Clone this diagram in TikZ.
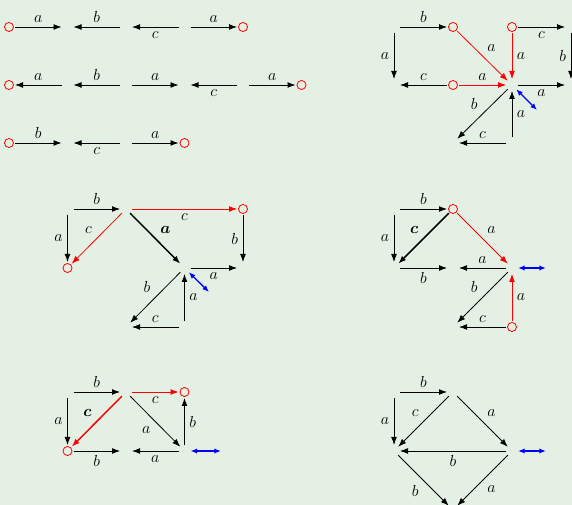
\documentclass[tikz,border=0pt]{standalone}
\definecolor{paleg}{RGB}{229,240,228}
\colorlet{hot}{red}
\colorlet{swapc}{blue}
\usepackage{tikz}
\usetikzlibrary{arrows.meta}
\usepackage{amsmath,bm}

\begin{document}
\begin{tikzpicture}[x=0.75pt, y=-0.75pt,
  every node/.style={font=\large, text=black},
  edge/.style={-{Latex[length=6pt,width=4.4pt]}, line width=0.6pt, shorten <=4.5pt, shorten >=4.5pt},
  hotedge/.style={edge, hot},
  fatedge/.style={edge, line width=1.1pt},
  flip/.style={{Latex[length=5pt,width=4pt]}-{Latex[length=5pt,width=4pt]}, swapc, line width=1pt, shorten <=4.5pt},
  hole/.style={circle, draw=hot, line width=0.6pt, inner sep=0pt, minimum size=6.8pt}]

% --- Background ---
\fill[paleg] (0,0) rectangle (572,505);
\useasboundingbox (0,0) rectangle (572,505);

% --- Words (top left) ---
\foreach \i/\x in {0/9, 1/67.5, 2/126, 3/184.5, 4/243, 5/301.5} {
  \coordinate (ra\i) at (\x,27);
  \coordinate (rb\i) at (\x,85);
  \coordinate (rc\i) at (\x,143);
}
\draw[edge] (ra0) -- node[above] {$a$} (ra1);
\draw[edge] (ra2) -- node[above] {$b$} (ra1);
\draw[edge] (ra3) -- node[below] {$c$} (ra2);
\draw[edge] (ra3) -- node[above] {$a$} (ra4);

\draw[edge] (rb1) -- node[above] {$a$} (rb0);
\draw[edge] (rb2) -- node[above] {$b$} (rb1);
\draw[edge] (rb2) -- node[above] {$a$} (rb3);
\draw[edge] (rb4) -- node[below] {$c$} (rb3);
\draw[edge] (rb4) -- node[above] {$a$} (rb5);

\draw[edge] (rc0) -- node[above] {$b$} (rc1);
\draw[edge] (rc2) -- node[below] {$c$} (rc1);
\draw[edge] (rc2) -- node[above] {$a$} (rc3);

% --- Graph 1 (top right) ---
\coordinate (tp1) at (394,27);  \coordinate (tp2) at (453,27);
\coordinate (tp3) at (512,27);  \coordinate (tp4) at (571,27);
\coordinate (tq1) at (394,85);  \coordinate (tq2) at (453,85);
\coordinate (tq3) at (512,85);  \coordinate (tq4) at (571,85);
\coordinate (tr2) at (453,143); \coordinate (tr3) at (512,143);
\coordinate (ts) at (537,110);

\draw[edge] (tp1) -- node[above] {$b$} (tp2);
\draw[edge] (tp1) -- node[left] {$a$} (tq1);
\draw[edge] (tp3) -- node[below] {$c$} (tp4);
\draw[edge] (tp4) -- node[left] {$b$} (tq4);
\draw[edge] (tq2) -- node[above] {$c$} (tq1);
\draw[hotedge] (tq2) -- node[above] {$a$} (tq3);
\draw[hotedge] (tp2) -- node[above right] {$a$} (tq3);
\draw[hotedge] (tp3) -- node[right] {$a$} (tq3);
\draw[edge] (tq3) -- node[below] {$a$} (tq4);
\draw[edge] (tq3) -- node[above left] {$b$} (tr2);
\draw[edge] (tr3) -- node[right] {$a$} (tq3);
\draw[edge] (tr3) -- node[above] {$c$} (tr2);
\draw[flip] (tq3) -- (ts);

% --- Graph 2 (middle left) ---
\coordinate (ma) at (67.5,209); \coordinate (mb) at (126,209);
\coordinate (mc) at (243,209);  \coordinate (md) at (67.5,268);
\coordinate (me) at (184.5,268); \coordinate (mf) at (243,268);
\coordinate (mg) at (126,327);  \coordinate (mh) at (184.5,327);
\coordinate (ms) at (209,292);

\draw[edge] (ma) -- node[above] {$b$} (mb);
\draw[edge] (ma) -- node[left] {$a$} (md);
\draw[hotedge] (mb) -- node[below] {$c$} (mc);
\draw[hotedge] (mb) -- node[above left] {$c$} (md);
\draw[fatedge] (mb) -- node[above right] {$\bm{a}$} (me);
\draw[edge] (mc) -- node[left] {$b$} (mf);
\draw[edge] (me) -- node[below] {$a$} (mf);
\draw[edge] (me) -- node[above left] {$b$} (mg);
\draw[edge] (mh) -- node[right] {$a$} (me);
\draw[edge] (mh) -- node[above] {$c$} (mg);
\draw[flip] (me) -- (ms);

% --- Graph 3 (middle right) ---
\coordinate (na) at (394,209); \coordinate (nb) at (453,209);
\coordinate (nd) at (394,268); \coordinate (ne) at (453,268);
\coordinate (nf) at (512,268); \coordinate (ng) at (453,327);
\coordinate (nh) at (512,327); \coordinate (ns) at (546,268);

\draw[edge] (na) -- node[above] {$b$} (nb);
\draw[edge] (na) -- node[left] {$a$} (nd);
\draw[fatedge] (nb) -- node[above left] {$\bm{c}$} (nd);
\draw[hotedge] (nb) -- node[above right] {$a$} (nf);
\draw[edge] (nd) -- node[below] {$b$} (ne);
\draw[edge] (nf) -- node[above] {$a$} (ne);
\draw[edge] (nf) -- node[above left] {$b$} (ng);
\draw[hotedge] (nh) -- node[right] {$a$} (nf);
\draw[edge] (nh) -- node[above] {$c$} (ng);
\draw[flip] (nf) -- (ns);

% --- Graph 4 (bottom left) ---
\coordinate (ka) at (67.5,392);  \coordinate (kb) at (126,392);
\coordinate (kc) at (184.5,392); \coordinate (kd) at (67.5,451);
\coordinate (ke) at (126,451);   \coordinate (kf) at (184.5,451);
\coordinate (ks) at (221,451);

\draw[edge] (ka) -- node[above] {$b$} (kb);
\draw[edge] (ka) -- node[left] {$a$} (kd);
\draw[hotedge] (kb) -- node[below] {$c$} (kc);
\draw[hotedge, line width=1.1pt] (kb) -- node[above left] {$\bm{c}$} (kd);
\draw[edge] (kb) -- node[below left] {$a$} (kf);
\draw[edge] (kf) -- node[right] {$b$} (kc);
\draw[edge] (kd) -- node[below] {$b$} (ke);
\draw[edge] (kf) -- node[below] {$a$} (ke);
\draw[flip] (kf) -- (ks);

% --- Graph 5 (bottom right) ---
\coordinate (za) at (394,392); \coordinate (zb) at (453,392);
\coordinate (zd) at (394,451); \coordinate (zf) at (512,451);
\coordinate (zg) at (453,510); \coordinate (zs) at (546,451);

\draw[edge] (za) -- node[above] {$b$} (zb);
\draw[edge] (za) -- node[left] {$a$} (zd);
\draw[edge] (zb) -- node[above left] {$c$} (zd);
\draw[edge] (zb) -- node[above right] {$a$} (zf);
\draw[edge] (zf) -- node[below] {$b$} (zd);
\draw[edge] (zd) -- node[below left] {$b$} (zg);
\draw[edge] (zf) -- node[below right] {$a$} (zg);
\draw[flip] (zf) -- (zs);

% --- Red start/end marks ---
\foreach \v in {ra0, ra4, rb0, rb5, rc0, rc3, tp2, tp3, tq2, mc, md, nb, nh, kc, kd}
  \node[hole] (o-\v) at (\v) {};

\end{tikzpicture}
\end{document}
